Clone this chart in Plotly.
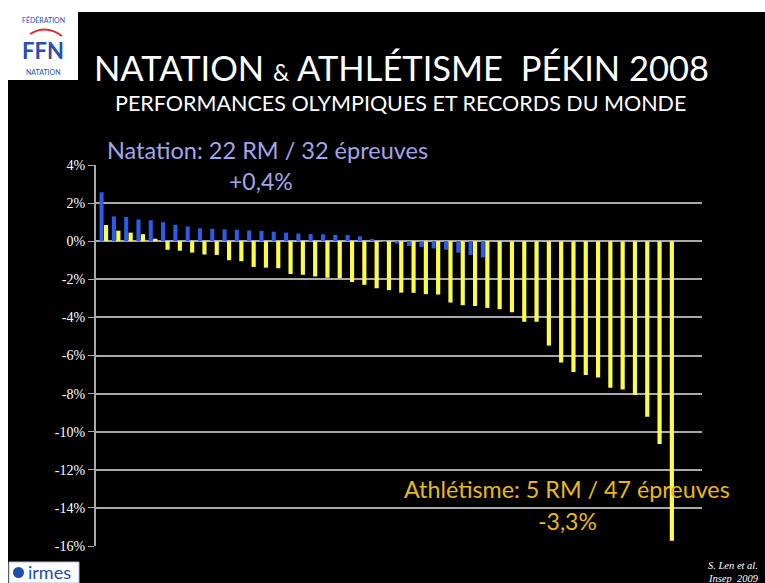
import plotly.graph_objects as go

# Écarts des performances olympiques (Pékin 2008) par rapport aux records du monde, en %
rangs = list(range(1, 48))

natation = [2.57, 1.30, 1.27, 1.14, 1.10, 1.00, 0.86, 0.77, 0.68, 0.65,
            0.62, 0.60, 0.56, 0.54, 0.50, 0.45, 0.40, 0.37, 0.36, 0.33,
            0.32, 0.26, 0.12, -0.03, -0.12, -0.25, -0.30, -0.38, -0.45, -0.60,
            -0.72, -0.85]

athletisme = [0.85, 0.55, 0.45, 0.37, 0.13, -0.45, -0.50, -0.60, -0.70, -0.72,
              -1.00, -1.05, -1.35, -1.39, -1.42, -1.72, -1.76, -1.85, -1.92, -1.94,
              -2.14, -2.29, -2.47, -2.57, -2.70, -2.71, -2.78, -2.80, -3.22, -3.36,
              -3.40, -3.50, -3.57, -3.73, -4.23, -4.23, -5.48, -6.37, -6.87, -7.03,
              -7.16, -7.69, -7.78, -8.07, -9.21, -10.64, -15.72]

y_ticks = [4, 2, 0, -2, -4, -6, -8, -10, -12, -14, -16]
y_labels = ["4%", "2%", "0%", "-2%", "-4%", "-6%", "-8%", "-10%", "-12%", "-14%", "-16%"]

W, H = 765, 583
L, R, T, B = 96, 702, 165, 546


def px(x):
    return (x - L) / (R - L)


def py(y):
    return (B - y) / (B - T)


fig = go.Figure()
fig.add_trace(go.Bar(x=rangs[:len(natation)], y=natation, width=0.33, offset=-0.35,
                     marker=dict(color="#2c5ce8", line=dict(width=0)), name="Natation"))
fig.add_trace(go.Bar(x=rangs, y=athletisme, width=0.34, offset=0.01,
                     marker=dict(color="#fbfb4c", line=dict(width=0)), name="Athlétisme"))

grid = "#a8a8a8"
shapes = [
    # cadre blanc haut / gauche
    dict(type="rect", xref="paper", yref="paper", x0=px(0), x1=px(W), y0=py(12), y1=py(-5),
         fillcolor="white", line=dict(width=0), layer="below"),
    dict(type="rect", xref="paper", yref="paper", x0=px(-5), x1=px(8), y0=py(H + 5), y1=py(0),
         fillcolor="white", line=dict(width=0), layer="below"),
    # logo FFN
    dict(type="rect", xref="paper", yref="paper", x0=px(8), x1=px(78), y0=py(80), y1=py(12),
         fillcolor="white", line=dict(width=0)),
    dict(type="path", xref="paper", yref="paper",
         path=f"M {px(30)},{py(34)} Q {px(46)},{py(24)} {px(62)},{py(36)}",
         line=dict(color="#d83030", width=2)),
    # logo irmes
    dict(type="rect", xref="paper", yref="paper", x0=px(9), x1=px(79), y0=py(H), y1=py(562),
         fillcolor="white", line=dict(color="#b0b8d8", width=1)),
    dict(type="circle", xref="paper", yref="paper", x0=px(13), x1=px(24), y0=py(578), y1=py(567),
         fillcolor="#1d4fa8", line=dict(width=0)),
]

annotations = [
    dict(text="NATATION <span style='font-size:23px'>&</span> ATHLÉTISME  PÉKIN 2008",
         x=px(401), y=py(68), font=dict(family="Lato", size=34.5, color="white")),
    dict(text="PERFORMANCES OLYMPIQUES ET RECORDS DU MONDE",
         x=px(400), y=py(103), font=dict(family="Lato", size=21.5, color="white")),
    dict(text="Natation: 22 RM / 32 épreuves", x=px(105), y=py(150), xanchor="left",
         font=dict(family="Lato", size=23.5, color="#a4a4e8")),
    dict(text="+0,4%", x=px(261), y=py(181),
         font=dict(family="Lato", size=23, color="#a4a4e8")),
    dict(text="Athlétisme: 5 RM / 47 épreuves", x=px(567), y=py(489),
         font=dict(family="Lato", size=23.3, color="#e8b818")),
    dict(text="-3,3%", x=px(567), y=py(521),
         font=dict(family="Lato", size=23, color="#e8b818")),
    dict(text="<b>FFN</b>", x=px(43), y=py(50), font=dict(family="Lato", size=22, color="#2a4fb0")),
    dict(text="FÉDÉRATION", x=px(43), y=py(20), font=dict(family="Lato", size=7, color="#2a4fb0")),
    dict(text="NATATION", x=px(43), y=py(72), font=dict(family="Lato", size=7, color="#2a4fb0")),
    dict(text="irmes", x=px(26), y=py(572), xanchor="left",
         font=dict(family="Lato", size=18, color="#1d4fa8")),
    dict(text="<i>S. Len et al.</i>", x=px(706), y=py(565), xanchor="left",
         font=dict(family="Liberation Serif", size=10.5, color="white")),
    dict(text="<i>Insep  2009</i>", x=px(706), y=py(578), xanchor="left",
         font=dict(family="Liberation Serif", size=10.5, color="white")),
]
for a in annotations:
    a.update(xref="paper", yref="paper", showarrow=False)
    a.setdefault("xanchor", "center")
    a.setdefault("yanchor", "middle")

fig.update_layout(
    width=W, height=H,
    margin=dict(l=L, r=W - R, t=T, b=H - B, pad=0),
    paper_bgcolor="black", plot_bgcolor="black",
    showlegend=False, barmode="overlay",
    shapes=shapes, annotations=annotations,
    xaxis=dict(range=[0.362, 49.63], showticklabels=False, showgrid=False,
               zeroline=False, showline=False, ticks=""),
    yaxis=dict(range=[-16, 4], tickvals=y_ticks, ticktext=y_labels,
               showgrid=True, gridcolor=grid, gridwidth=2,
               zeroline=True, zerolinecolor=grid, zerolinewidth=2,
               showline=True, linecolor=grid, linewidth=2,
               ticks="outside", ticklen=6, tickcolor=grid, tickwidth=1,
               tickfont=dict(family="Liberation Serif, serif", size=14, color="white")),
)

fig.write_html("out.html")
